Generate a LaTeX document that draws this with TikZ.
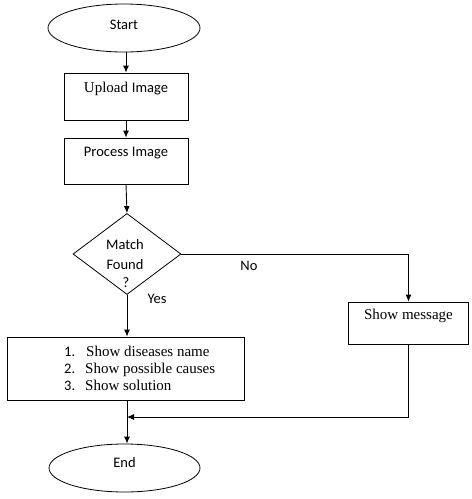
\documentclass[tikz,border=0pt]{standalone}
\usepackage{fontspec}
\setmainfont{Liberation Serif}
\newfontfamily\calfont{Carlito}
\usetikzlibrary{shapes.geometric,arrows.meta}
\tikzset{
  flow/.style={line width=0.9pt},
  arr/.style={flow,-{Latex[length=7pt,width=6pt]}},
  term/.style={ellipse,draw,line width=0.8pt,inner sep=0pt,minimum width=152pt,minimum height=48pt},
  box/.style={rectangle,draw,line width=0.8pt,inner sep=0pt},
  calt/.style={font=\calfont\fontsize{14.5}{16}\selectfont,inner sep=0pt},
  sert/.style={font=\fontsize{15}{17}\selectfont,inner sep=0pt},
}
\begin{document}
\begin{tikzpicture}[x=1pt,y=-1pt]
\useasboundingbox (0,0) rectangle (472,499);
\fill[white] (0,0) rectangle (472,499);
% nodes
\node[term] (start) at (124,28) {};
\node[calt] (starttxt) at (124,25) {Start};
\node[box,minimum width=124pt,minimum height=47pt] (upload) at (126,96.5) {};
\node[anchor=base,inner sep=0pt] (uploadtxt) at (126,92) {\fontsize{15}{17}\selectfont Upload \calfont\fontsize{14.5}{16}\selectfont Image};
\node[box,minimum width=124pt,minimum height=46pt] (process) at (126,161) {};
\node[calt,anchor=base] (processtxt) at (126,156) {Process Image};
\node[diamond,draw,line width=0.8pt,inner sep=0pt,minimum width=108pt,minimum height=81pt] (dia) at (127,254) {};
\node[calt] (t1) at (125,245) {Match};
\node[calt] (t2) at (125,265) {Found};
\node[calt] (t3) at (126,283) {?};
\node[box,minimum width=120pt,minimum height=42pt] (msg) at (408.5,323) {};
\node[sert] (msgtxt) at (408.5,316) {Show message};
\node[box,minimum width=237pt,minimum height=63pt] (list) at (125.5,368.5) {};
\node[calt,anchor=base west] (n1) at (64,356) {1.};
\node[sert,anchor=base west] (l1) at (86,356) {Show diseases name};
\node[calt,anchor=base west] (n2) at (64,373) {2.};
\node[sert,anchor=base west] (l2) at (85,373) {Show possible causes};
\node[calt,anchor=base west] (n3) at (64,390) {3.};
\node[sert,anchor=base west] (l3) at (85,390) {Show solution};
\node[term,minimum width=151pt] (end) at (124.5,468) {};
\node[calt] (endtxt) at (124.5,463) {End};
\node[calt] (no) at (249,266) {No};
\node[calt] (yes) at (157,299) {Yes};
\coordinate (join) at (127,417);
% connectors
\draw[arr] (upload.north |- start.south) -- (upload.north);
\draw[arr] (upload.south) -- (process.north);
\draw[arr] (process.south) -- (dia.north);
\draw[arr] (dia.east) -- (msg.north |- dia.east) -- (msg.north);
\draw[arr] (dia.south) -- (list.north -| dia.south);
\draw[arr] (list.south -| join) -- (end.north -| join);
\draw[arr] (msg.south) |- (join);
\end{tikzpicture}
\end{document}
